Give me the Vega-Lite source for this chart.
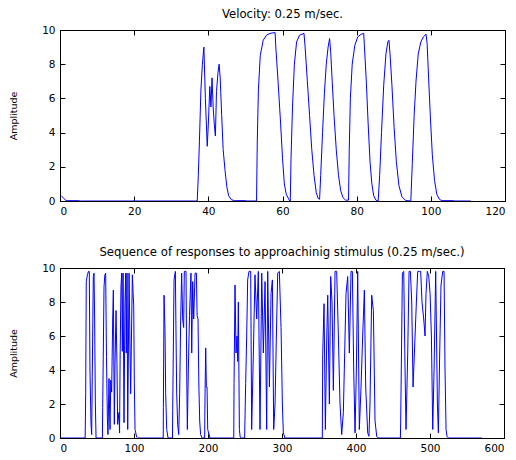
{
  "$schema": "https://vega.github.io/schema/vega-lite/v6.json",
  "background": "white",
  "padding": {"left": 8, "top": 8, "right": 10, "bottom": 5},
  "bounds": "flush",
  "spacing": 67,
  "config": {
    "view": {"stroke": "black", "strokeWidth": 1},
    "font": "DejaVu Sans",
    "axis": {
      "domainColor": "black", "tickColor": "black", "tickSize": -5, "grid": false,
      "labelFont": "DejaVu Sans", "labelFontSize": 10.5, "labelColor": "black", "labelPadding": 10,
      "titleFont": "DejaVu Sans", "titleFontSize": 9.5, "titleFontWeight": "normal", "titleColor": "black"
    },
    "title": {"font": "DejaVu Sans", "fontSize": 11.7, "fontWeight": "normal", "color": "black", "offset": 4}
  },
  "datasets": {
    "velocity": [
      {"x":0.3,"y":0.32},{"x":0.6,"y":0.25},{"x":1,"y":0.15},{"x":1.5,"y":0.05},{"x":2,"y":0.02},{"x":5,"y":0.02},{"x":5.5,"y":0},
      {"x":37,"y":0},{"x":37.3,"y":1.5},{"x":37.6,"y":3.5},{"x":38,"y":6.5},{"x":38.4,"y":8},{"x":38.8,"y":9},{"x":39.2,"y":6},{"x":39.7,"y":3.2},{"x":40,"y":4.5},{"x":40.4,"y":6.7},{"x":40.7,"y":5.5},{"x":41,"y":7.2},{"x":41.3,"y":5.5},{"x":41.6,"y":4.5},{"x":41.9,"y":3.8},{"x":42.2,"y":6.4},{"x":42.6,"y":7.5},{"x":42.9,"y":8},{"x":43.2,"y":7.2},{"x":43.6,"y":5},{"x":44,"y":3},{"x":44.5,"y":1.8},{"x":45,"y":0.8},{"x":45.5,"y":0.3},{"x":46.2,"y":0.08},{"x":47,"y":0.02},{"x":50,"y":0.02},{"x":50.5,"y":0},
      {"x":53,"y":0},{"x":53.2,"y":3.5},{"x":53.5,"y":6.5},{"x":54,"y":8.5},{"x":54.8,"y":9.4},{"x":55.7,"y":9.7},{"x":56.6,"y":9.8},{"x":58,"y":9.85},{"x":58.2,"y":9},{"x":58.8,"y":7},{"x":59.5,"y":4.5},{"x":60,"y":2.5},{"x":60.5,"y":1},{"x":61,"y":0.4},{"x":61.7,"y":0.1},{"x":62,"y":0},
      {"x":62.1,"y":0},{"x":62.3,"y":2.5},{"x":62.7,"y":5.5},{"x":63.2,"y":8},{"x":63.8,"y":9.3},{"x":64.6,"y":9.7},{"x":65.8,"y":9.8},{"x":66.1,"y":9},{"x":66.7,"y":7},{"x":67.3,"y":5},{"x":67.9,"y":3},{"x":68.5,"y":1.5},{"x":69.1,"y":0.5},{"x":69.6,"y":0.15},{"x":70,"y":0.1},
      {"x":70.3,"y":1.5},{"x":70.8,"y":4},{"x":71.3,"y":6.3},{"x":71.8,"y":8},{"x":72.3,"y":9},{"x":72.7,"y":9.5},{"x":73,"y":8.7},{"x":73.4,"y":7},{"x":73.9,"y":5},{"x":74.5,"y":3},{"x":75.1,"y":1.5},{"x":75.7,"y":0.6},{"x":76.3,"y":0.2},{"x":77,"y":0.05},{"x":77.8,"y":0.05},
      {"x":78,"y":3},{"x":78.3,"y":6},{"x":78.8,"y":8},{"x":79.5,"y":9.1},{"x":80.3,"y":9.6},{"x":81.2,"y":9.75},{"x":81.9,"y":9.8},{"x":82.1,"y":9},{"x":82.6,"y":7},{"x":83.1,"y":4.5},{"x":83.6,"y":2.3},{"x":84.1,"y":1},{"x":84.6,"y":0.3},{"x":85.2,"y":0.05},{"x":85.8,"y":0},
      {"x":86.2,"y":1.5},{"x":86.7,"y":4},{"x":87.3,"y":6.8},{"x":87.9,"y":8.6},{"x":88.4,"y":9.3},{"x":88.7,"y":9.4},{"x":89,"y":8.6},{"x":89.5,"y":6.8},{"x":90.1,"y":4.3},{"x":90.7,"y":2.3},{"x":91.4,"y":0.9},{"x":92.2,"y":0.25},{"x":93.2,"y":0.03},{"x":94.6,"y":0},
      {"x":95,"y":2.2},{"x":95.5,"y":5},{"x":96,"y":7},{"x":96.6,"y":8.6},{"x":97.3,"y":9.3},{"x":98,"y":9.6},{"x":98.7,"y":9.75},{"x":99,"y":9.2},{"x":99.4,"y":7.2},{"x":99.9,"y":4.8},{"x":100.4,"y":2.7},{"x":101,"y":1.2},{"x":101.6,"y":0.4},{"x":102.3,"y":0.1},{"x":103,"y":0.02},{"x":106,"y":0.02},{"x":106.5,"y":0},{"x":110.8,"y":0}
    ],
    "sequence": [
      {"x":0,"y":0},{"x":34,"y":0},{"x":34.7,"y":2.6},{"x":35.5,"y":9.2},{"x":37,"y":9.6},{"x":38.5,"y":9.8},{"x":39.6,"y":9.8},{"x":40.5,"y":4},{"x":41.9,"y":0.8},{"x":42.8,"y":0.2},{"x":43.6,"y":3.6},{"x":45,"y":9.5},{"x":46,"y":9.7},{"x":46.8,"y":7},{"x":47.8,"y":2},{"x":48.7,"y":0},
      {"x":57.3,"y":0},{"x":57.7,"y":1.8},{"x":59.5,"y":8.9},{"x":60.6,"y":9.6},{"x":61.7,"y":9.7},{"x":62.8,"y":4.8},{"x":64,"y":1.2},{"x":64.8,"y":0.2},{"x":65.5,"y":1.7},{"x":66.2,"y":3.5},{"x":67,"y":1.7},{"x":67.6,"y":0.5},{"x":68.6,"y":3.4},{"x":69.8,"y":2.7},{"x":71.2,"y":7},{"x":72.1,"y":8.7},{"x":73.4,"y":0.8},{"x":74.3,"y":4.3},{"x":75.7,"y":7.5},{"x":77,"y":4.3},{"x":77.9,"y":0.8},{"x":79.7,"y":1.5},{"x":80.5,"y":0.3},{"x":81.3,"y":5},{"x":82.4,"y":8.9},{"x":83.4,"y":9.7},{"x":84.2,"y":5.1},{"x":85.2,"y":9.7},{"x":86.5,"y":0.9},{"x":87.8,"y":7.9},{"x":88.8,"y":9.7},{"x":89.6,"y":5},{"x":90.6,"y":9.7},{"x":91.5,"y":0.5},{"x":92.4,"y":5},{"x":93.3,"y":9.7},{"x":94.4,"y":6},{"x":95.5,"y":2.6},{"x":96.6,"y":6},{"x":97.8,"y":9.6},{"x":98.8,"y":8.5},{"x":99.6,"y":7.8},{"x":100.5,"y":3},{"x":101.4,"y":0.5},{"x":103.6,"y":0.05},{"x":105,"y":0},
      {"x":139.5,"y":0},{"x":139.7,"y":1.8},{"x":140.6,"y":8.4},{"x":141.9,"y":6.3},{"x":142.8,"y":2.6},{"x":144.2,"y":0.5},{"x":146,"y":0},
      {"x":152,"y":0},{"x":152.3,"y":1.6},{"x":154.1,"y":9.3},{"x":155.9,"y":9.8},{"x":156.8,"y":6},{"x":157.7,"y":2.6},{"x":159,"y":0.8},{"x":160.4,"y":0.2},{"x":161.7,"y":2.6},{"x":163.1,"y":7},{"x":164.4,"y":9.7},{"x":165.8,"y":7},{"x":167.1,"y":6.5},{"x":168,"y":9.8},{"x":170.3,"y":9.8},{"x":171.2,"y":4},{"x":172.1,"y":0.5},{"x":173.4,"y":4},{"x":175,"y":7.2},{"x":177,"y":9.7},{"x":178,"y":5},{"x":179.3,"y":9.2},{"x":180.7,"y":7},{"x":182.5,"y":9.7},{"x":184.3,"y":9.7},{"x":185.3,"y":7.2},{"x":186.5,"y":7},{"x":187.7,"y":3},{"x":188.8,"y":1},{"x":190,"y":0.2},{"x":192,"y":0},
      {"x":195.5,"y":0},{"x":196,"y":2.6},{"x":196.9,"y":5.3},{"x":197.8,"y":3},{"x":198.7,"y":3},{"x":199.6,"y":0.5},{"x":202.7,"y":0},
      {"x":234.8,"y":0},{"x":235.2,"y":3.2},{"x":236.5,"y":9},{"x":237.9,"y":5},{"x":239.2,"y":6},{"x":240.2,"y":4.5},{"x":241,"y":8},{"x":242.4,"y":0.5},{"x":243.5,"y":0.05},{"x":245.5,"y":0},
      {"x":249.5,"y":0},{"x":250.9,"y":3.2},{"x":252.3,"y":6},{"x":253.6,"y":9.3},{"x":255.4,"y":9.8},{"x":257.7,"y":9.8},{"x":259,"y":0.5},{"x":261.3,"y":5},{"x":263.5,"y":9.6},{"x":265.8,"y":7},{"x":268,"y":9.8},{"x":270.3,"y":0.5},{"x":272.6,"y":9.7},{"x":274.8,"y":5},{"x":277.1,"y":9.2},{"x":279.3,"y":0.5},{"x":280.7,"y":9.8},{"x":283,"y":3},{"x":285.2,"y":8.5},{"x":287,"y":9.3},{"x":288.8,"y":0.5},{"x":290.6,"y":2},{"x":292.4,"y":6},{"x":294.2,"y":9.7},{"x":296.4,"y":9.8},{"x":298.7,"y":6.5},{"x":300.5,"y":2},{"x":301.8,"y":0.3},{"x":304,"y":0},
      {"x":354.5,"y":0},{"x":355,"y":4.9},{"x":356.8,"y":7.9},{"x":358.6,"y":0.5},{"x":360.4,"y":5.7},{"x":361.8,"y":8.4},{"x":364,"y":2},{"x":365.8,"y":9.5},{"x":367.6,"y":8},{"x":369.4,"y":2.8},{"x":371.7,"y":9.8},{"x":373.9,"y":9.8},{"x":376.2,"y":6},{"x":378.4,"y":2},{"x":380.7,"y":0.2},{"x":382.9,"y":1.5},{"x":384.7,"y":5},{"x":386.5,"y":8.5},{"x":388.8,"y":9.5},{"x":391,"y":5},{"x":393.3,"y":9.8},{"x":395.1,"y":9.8},{"x":396.9,"y":4},{"x":398.7,"y":0.3},{"x":400.5,"y":4},{"x":402.3,"y":9.8},{"x":404.5,"y":0.5},{"x":406.8,"y":3},{"x":409,"y":6},{"x":411.3,"y":8.7},{"x":413.1,"y":3},{"x":415.8,"y":0.3},{"x":417.5,"y":0.1},{"x":418.9,"y":2},{"x":421.2,"y":8.4},{"x":423.5,"y":7.5},{"x":425.7,"y":1},{"x":428,"y":0.1},{"x":430,"y":0},
      {"x":460,"y":0},{"x":460.4,"y":1},{"x":462.7,"y":9.7},{"x":464.5,"y":9.8},{"x":466.3,"y":4},{"x":467.6,"y":0.5},{"x":469.9,"y":5},{"x":471.7,"y":9.8},{"x":473.5,"y":9.8},{"x":475.3,"y":8},{"x":477.1,"y":3},{"x":479.8,"y":6},{"x":481.6,"y":8},{"x":483.4,"y":9.8},{"x":485.6,"y":9.8},{"x":487.4,"y":9.8},{"x":489.2,"y":8},{"x":491.5,"y":7},{"x":493.3,"y":6},{"x":494.6,"y":8.5},{"x":496.4,"y":9.8},{"x":498.3,"y":9.5},{"x":500.1,"y":8.5},{"x":501.9,"y":6},{"x":503.7,"y":0.5},{"x":505.5,"y":4},{"x":507.7,"y":9.8},{"x":510,"y":2},{"x":511.3,"y":0.3},{"x":513.1,"y":5},{"x":514.9,"y":9},{"x":517.2,"y":9.8},{"x":519,"y":9.8},{"x":520.3,"y":4},{"x":521.7,"y":0.5},{"x":523,"y":0.1},{"x":524.8,"y":0},{"x":570,"y":0}
    ]
  },
  "vconcat": [
    {
      "width": 445, "height": 171,
      "title": "Velocity: 0.25 m/sec.",
      "data": {"name": "velocity"},
      "layer": [
        {
          "mark": {"type": "line", "color": "#0000ff", "strokeWidth": 1, "clip": true},
          "encoding": {
            "x": {"field": "x", "type": "quantitative", "scale": {"domain": [0, 120], "nice": false},
                  "axis": {"values": [0, 20, 40, 60, 80, 100, 120], "title": null}},
            "y": {"field": "y", "type": "quantitative", "scale": {"domain": [0, 10], "nice": false},
                  "axis": {"values": [0, 2, 4, 6, 8, 10], "title": "Amplitude", "titlePadding": 23}}
          }
        },
        {
          "mark": {"type": "line", "strokeOpacity": 0},
          "encoding": {
            "x": {"field": "x", "type": "quantitative", "axis": {"orient": "top", "values": [0, 20, 40, 60, 80, 100, 120], "labels": false, "title": null}},
            "y": {"field": "y", "type": "quantitative", "axis": {"orient": "right", "values": [0, 2, 4, 6, 8, 10], "labels": false, "title": null}}
          }
        }
      ],
      "resolve": {"axis": {"x": "independent", "y": "independent"}}
    },
    {
      "width": 444, "height": 170,
      "title": "Sequence of responses to approachinig stimulus (0.25 m/sec.)",
      "data": {"name": "sequence"},
      "layer": [
        {
          "mark": {"type": "line", "color": "#0000ff", "strokeWidth": 1, "clip": true},
          "encoding": {
            "x": {"field": "x", "type": "quantitative", "scale": {"domain": [0, 600], "nice": false},
                  "axis": {"values": [0, 100, 200, 300, 400, 500, 600], "title": null}},
            "y": {"field": "y", "type": "quantitative", "scale": {"domain": [0, 10], "nice": false},
                  "axis": {"values": [0, 2, 4, 6, 8, 10], "title": "Amplitude", "titlePadding": 23}}
          }
        },
        {
          "mark": {"type": "line", "strokeOpacity": 0},
          "encoding": {
            "x": {"field": "x", "type": "quantitative", "axis": {"orient": "top", "values": [0, 100, 200, 300, 400, 500, 600], "labels": false, "title": null}},
            "y": {"field": "y", "type": "quantitative", "axis": {"orient": "right", "values": [0, 2, 4, 6, 8, 10], "labels": false, "title": null}}
          }
        }
      ],
      "resolve": {"axis": {"x": "independent", "y": "independent"}}
    }
  ]
}
